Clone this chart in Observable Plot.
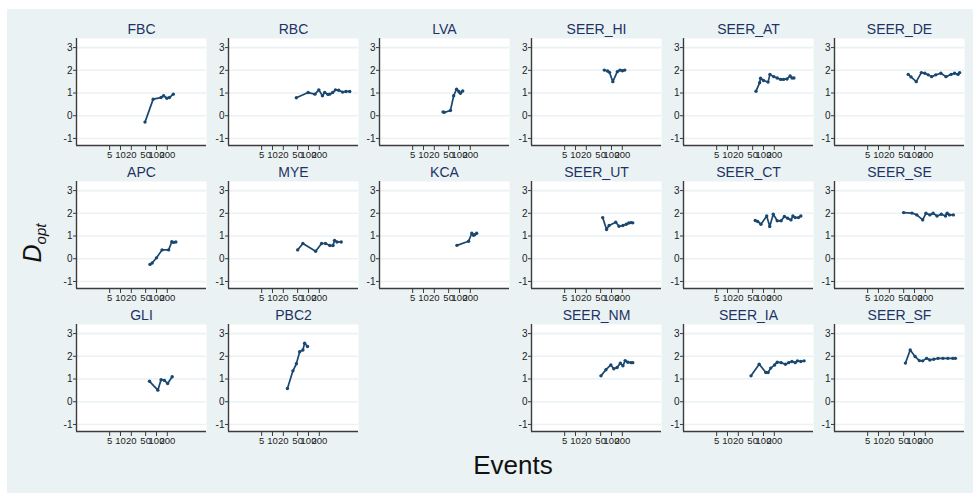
<!DOCTYPE html>
<html>
<head>
<meta charset="utf-8">
<script src="https://cdn.jsdelivr.net/npm/d3@7"></script>
<script src="https://cdn.jsdelivr.net/npm/@observablehq/plot@0.6"></script>
<style>
  html, body { margin: 0; padding: 0; background: #ffffff; }
  #root { position: relative; width: 973px; height: 493px; overflow: hidden; background: #ffffff; font-family: "Liberation Sans", Arial, sans-serif; }
  #bg { position: absolute; left: 7px; top: 9px; right: 0; bottom: 0; background: #eaf2f3; }
  .panel { position: absolute; }
  #xlabel { position: absolute; left: 0; width: 1026px; top: 450px; text-align: center; font-size: 26px; color: #111; }
  #ylabel { position: absolute; left: 33px; top: 243px; transform: translate(-50%, -50%) rotate(-90deg); white-space: nowrap; color: #111; font-style: italic; font-size: 25px; }
  #ylabel sub { font-size: 15px; vertical-align: -5px; }
</style>
</head>
<body>
<div id="root"><div id="bg"></div></div>
<script>
// ---- Data ----
const panelNames = [
  "FBC", "RBC", "LVA", "SEER_HI", "SEER_AT", "SEER_DE",
  "APC", "MYE", "KCA", "SEER_UT", "SEER_CT", "SEER_SE",
  "GLI", "PBC2", null, "SEER_NM", "SEER_IA", "SEER_SF"
];
const xTicks = [5, 10, 20, 50, 100, 200];
const yTicks = [-1, 0, 1, 2, 3];

const FBC_events = [48, 81, 134, 158, 194, 229, 293];
const FBC_dopt   = [-0.28, 0.73, 0.80, 0.88, 0.77, 0.80, 0.95];
const RBC_events = [46, 98, 151, 194, 244, 282, 347, 387, 470, 560, 690, 890, 1100, 1400];
const RBC_dopt   = [0.79, 1.02, 0.95, 1.14, 0.88, 1.02, 0.94, 0.95, 1.02, 1.14, 1.12, 1.04, 1.07, 1.07];
const LVA_events = [35, 38, 56, 69, 83, 96, 106, 123];
const LVA_dopt   = [0.17, 0.15, 0.23, 0.88, 1.17, 1.07, 0.99, 1.09];
const SEER_HI_events = [63, 78, 88, 109, 145, 172, 202, 234];
const SEER_HI_dopt   = [2.01, 1.97, 1.91, 1.50, 1.94, 2.01, 1.98, 2.01];
const SEER_AT_events = [62, 78, 83, 100, 134, 151, 194, 240, 300, 360, 450, 550, 620, 700];
const SEER_AT_dopt   = [1.08, 1.45, 1.65, 1.55, 1.48, 1.82, 1.72, 1.66, 1.60, 1.60, 1.62, 1.75, 1.66, 1.66];
const SEER_DE_events = [67, 80, 112, 155, 193, 240, 300, 390, 540, 750, 1040, 1300, 1620, 1800];
const SEER_DE_dopt   = [1.82, 1.71, 1.50, 1.90, 1.87, 1.80, 1.72, 1.80, 1.87, 1.72, 1.82, 1.87, 1.82, 1.90];
const APC_events = [66, 76, 100, 143, 217, 267, 297, 345];
const APC_dopt   = [-0.25, -0.19, 0.04, 0.39, 0.39, 0.75, 0.72, 0.74];
const MYE_events = [50, 70, 158, 231, 297, 390, 480, 530, 618, 810];
const MYE_dopt   = [0.39, 0.67, 0.33, 0.67, 0.67, 0.58, 0.58, 0.81, 0.74, 0.74];
const KCA_events = [85, 179, 220, 245, 265, 300];
const KCA_dopt   = [0.59, 0.77, 1.12, 1.03, 1.06, 1.12];
const SEER_UT_events = [57, 73, 86, 131, 162, 208, 257, 303, 350, 390];
const SEER_UT_dopt   = [1.81, 1.29, 1.46, 1.61, 1.43, 1.46, 1.52, 1.57, 1.59, 1.58];
const SEER_CT_events = [59, 69, 85, 123, 149, 187, 241, 309, 381, 470, 580, 657, 760, 937, 1090];
const SEER_CT_dopt   = [1.68, 1.64, 1.52, 1.88, 1.42, 1.96, 1.67, 1.67, 1.86, 1.78, 1.71, 1.88, 1.81, 1.81, 1.88];
const SEER_SE_events = [50, 85, 116, 169, 208, 267, 329, 422, 556, 727, 808, 935, 1200];
const SEER_SE_dopt   = [2.03, 2.01, 1.93, 1.71, 2.00, 1.93, 2.00, 1.88, 1.96, 1.88, 2.00, 1.93, 1.93];
const GLI_events = [64, 109, 134, 166, 204, 273];
const GLI_dopt   = [0.90, 0.51, 0.97, 0.94, 0.80, 1.10];
const PBC2_events = [26, 37, 46, 57, 70, 78, 94];
const PBC2_dopt   = [0.58, 1.36, 1.67, 2.20, 2.28, 2.58, 2.43];
const SEER_NM_events = [51, 70, 96, 116, 143, 176, 208, 240, 284, 350, 390];
const SEER_NM_dopt   = [1.14, 1.41, 1.62, 1.45, 1.51, 1.70, 1.58, 1.81, 1.74, 1.72, 1.72];
const SEER_IA_events = [45, 76, 116, 134, 159, 204, 241, 309, 406, 500, 617, 760, 880, 1090, 1340];
const SEER_IA_dopt   = [1.14, 1.65, 1.29, 1.29, 1.48, 1.62, 1.74, 1.72, 1.65, 1.72, 1.77, 1.72, 1.80, 1.77, 1.80];
const SEER_SF_events = [56, 76, 104, 137, 169, 217, 267, 343, 451, 618, 845, 1160, 1370];
const SEER_SF_dopt   = [1.70, 2.28, 1.99, 1.81, 1.80, 1.91, 1.84, 1.87, 1.91, 1.91, 1.91, 1.91, 1.91];

const seriesEvents = {FBC: FBC_events, RBC: RBC_events, LVA: LVA_events, SEER_HI: SEER_HI_events, SEER_AT: SEER_AT_events, SEER_DE: SEER_DE_events,
  APC: APC_events, MYE: MYE_events, KCA: KCA_events, SEER_UT: SEER_UT_events, SEER_CT: SEER_CT_events, SEER_SE: SEER_SE_events,
  GLI: GLI_events, PBC2: PBC2_events, SEER_NM: SEER_NM_events, SEER_IA: SEER_IA_events, SEER_SF: SEER_SF_events};
const seriesDopt = {FBC: FBC_dopt, RBC: RBC_dopt, LVA: LVA_dopt, SEER_HI: SEER_HI_dopt, SEER_AT: SEER_AT_dopt, SEER_DE: SEER_DE_dopt,
  APC: APC_dopt, MYE: MYE_dopt, KCA: KCA_dopt, SEER_UT: SEER_UT_dopt, SEER_CT: SEER_CT_dopt, SEER_SE: SEER_SE_dopt,
  GLI: GLI_dopt, PBC2: PBC2_dopt, SEER_NM: SEER_NM_dopt, SEER_IA: SEER_IA_dopt, SEER_SF: SEER_SF_dopt};

// ---- Layout ----
const colLeft = [76, 228, 379, 531, 683, 834];
const rowTop = [38, 181, 324];
const PW = 130, PH = 107;
const mL = 26, mR = 6, mT = 22, mB = 22;
const xDomain = [0.6, 2450];
const yDomain = [-1.31, 3.4];
const navy = "#1a476f";
const axisCol = "#3c3c3c";

const root = document.getElementById("root");

panelNames.forEach((name, i) => {
  if (!name) return;
  const r = Math.floor(i / 6), c = i % 6;
  const data = seriesEvents[name].map((e, k) => ({events: e, dopt: seriesDopt[name][k]}));
  const chart = Plot.plot({
    width: PW + mL + mR,
    height: PH + mT + mB,
    marginLeft: mL, marginRight: mR, marginTop: mT, marginBottom: mB,
    x: {type: "log", domain: xDomain, axis: null},
    y: {domain: yDomain, axis: null},
    style: {background: "transparent", fontFamily: "'Liberation Sans', Arial, sans-serif", overflow: "visible"},
    marks: [
      Plot.frame({fill: "white", stroke: null}),
      Plot.gridY({ticks: yTicks, stroke: "#eaf2f3", strokeOpacity: 1, strokeWidth: 1.6}),
      Plot.ruleY([yDomain[0]], {stroke: axisCol, strokeWidth: 1.4}),
      Plot.ruleX([xDomain[0]], {stroke: axisCol, strokeWidth: 1.4}),
      // x-axis ticks and labels positioned by the log x scale
      Plot.ruleX(xTicks, {x: d => d, insetTop: PH, insetBottom: -5, stroke: axisCol, strokeWidth: 1}),
      Plot.text(xTicks, {x: d => d, frameAnchor: "bottom", lineAnchor: "top", dy: 6, text: d => String(d), fontSize: 9.5, fill: "#222"}),
      Plot.axisY({ticks: yTicks, tickSize: 3, tickPadding: 1, fontSize: 10, tickFormat: d => String(d), label: null, stroke: axisCol, fill: "#222", strokeWidth: 1}),
      Plot.line(data, {x: "events", y: "dopt", stroke: navy, strokeWidth: 1.7}),
      Plot.dot(data, {x: "events", y: "dopt", r: 1.7, fill: navy, stroke: null}),
      Plot.text([name], {frameAnchor: "top", lineAnchor: "middle", dy: -9, fontSize: 14, fill: "#1e3264"})
    ]
  });
  const wrap = document.createElement("div");
  wrap.className = "panel";
  wrap.style.left = (colLeft[c] - mL) + "px";
  wrap.style.top = (rowTop[r] - mT) + "px";
  wrap.appendChild(chart);
  root.appendChild(wrap);
});

const xl = document.createElement("div");
xl.id = "xlabel";
xl.textContent = "Events";
root.appendChild(xl);

const yl = document.createElement("div");
yl.id = "ylabel";
yl.innerHTML = "D<sub>opt</sub>";
root.appendChild(yl);
</script>
</body>
</html>
